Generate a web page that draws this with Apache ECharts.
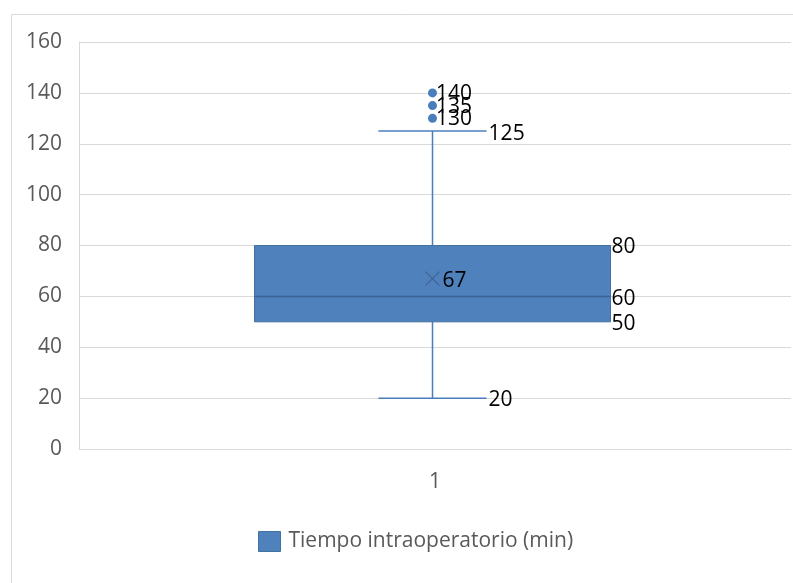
<!DOCTYPE html>
<html>
<head>
<meta charset="utf-8">
<script src="https://cdn.jsdelivr.net/npm/echarts@6/dist/echarts.min.js"></script>
<style>html,body{margin:0;padding:0;background:#fff;}#c{width:793px;height:583px;}</style>
</head>
<body>
<div id="c"></div>
<script>
const categories = ['1'];
const seriesName = 'Tiempo intraoperatorio (min)';
const whiskerLow = [20];
const q1 = [50];
const median = [60];
const q3 = [80];
const whiskerHigh = [125];
const mean = [67];
const outlierValues = [130, 135, 140];

const FONT = '"Open Sans", "Noto Sans", sans-serif';
const FS = 21;

const boxData = categories.map((c, i) => [i, whiskerLow[i], q1[i], median[i], q3[i], whiskerHigh[i], mean[i]]);
const outlierData = outlierValues.map(v => [0, v]);

const chart = echarts.init(document.getElementById('c'), null, {renderer: 'canvas'});
chart.setOption({
  animation: false,
  graphic: [{
    type: 'rect', shape: {x: 11.5, y: 14.5, width: 800, height: 600},
    style: {fill: 'none', stroke: '#d9d9d9', lineWidth: 1}, silent: true, z: -10
  }],
  grid: {left: 79, right: 2, top: 42, bottom: 134},
  legend: {
    left: 253, top: 526,
    itemWidth: 22, itemHeight: 20, itemGap: 10,
    textStyle: {color: '#595959', fontSize: FS, fontFamily: FONT, padding: [0, 0, 0, 3]},
    data: [{name: seriesName, icon: 'rect', itemStyle: {color: '#4f81bd', borderColor: '#41719c', borderWidth: 1}}]
  },
  xAxis: {
    type: 'category', data: categories, boundaryGap: true,
    axisLine: {show: true, lineStyle: {color: '#d9d9d9'}},
    axisTick: {show: false},
    axisLabel: {color: '#595959', fontSize: FS, fontFamily: FONT, margin: 23}
  },
  yAxis: {
    type: 'value', min: 0, max: 160, interval: 20,
    axisLine: {show: true, lineStyle: {color: '#d9d9d9'}},
    axisTick: {show: false},
    splitLine: {lineStyle: {color: '#d9d9d9'}},
    axisLabel: {color: '#595959', fontSize: FS, fontFamily: FONT, margin: 17}
  },
  series: [{
    name: seriesName,
    type: 'custom',
    data: boxData,
    encode: {x: 0, y: [1, 2, 3, 4, 5]},
    itemStyle: {color: '#4f81bd'},
    renderItem: function (params, api) {
      const xi = api.value(0);
      const vLow = api.value(1), vQ1 = api.value(2), vMed = api.value(3), vQ3 = api.value(4), vHigh = api.value(5), vMean = api.value(6);
      const pLow = api.coord([xi, vLow]);
      const pQ1 = api.coord([xi, vQ1]);
      const pMed = api.coord([xi, vMed]);
      const pQ3 = api.coord([xi, vQ3]);
      const pHigh = api.coord([xi, vHigh]);
      const pMean = api.coord([xi, vMean]);
      const band = api.size([1, 0])[0];
      const cx = Math.round(pQ1[0]) - 2.5;
      const bh = band * 0.25;
      const ch = band * 0.076;
      const lineStyle = {stroke: '#4a7ebb', lineWidth: 1.5};
      const txt = (x, y, v) => ({
        type: 'text', x: x, y: y, z2: 20,
        style: {text: String(v), fill: '#000', fontSize: FS, fontFamily: FONT, align: 'left', verticalAlign: 'middle'}
      });
      const m = 7;
      return {
        type: 'group',
        children: [
          {type: 'line', shape: {x1: cx, y1: pHigh[1], x2: cx, y2: pQ3[1]}, style: lineStyle},
          {type: 'line', shape: {x1: cx, y1: pQ1[1], x2: cx, y2: pLow[1]}, style: lineStyle},
          {type: 'line', shape: {x1: cx - ch, y1: pHigh[1], x2: cx + ch, y2: pHigh[1]}, style: lineStyle},
          {type: 'line', shape: {x1: cx - ch, y1: pLow[1], x2: cx + ch, y2: pLow[1]}, style: lineStyle},
          {type: 'rect', shape: {x: cx - bh, y: pQ3[1], width: 2 * bh, height: pQ1[1] - pQ3[1]},
            style: {fill: '#4f81bd', stroke: '#41719c', lineWidth: 1}},
          {type: 'line', shape: {x1: cx - bh, y1: pMed[1], x2: cx + bh, y2: pMed[1]}, style: {stroke: '#3b6493', lineWidth: 1.5}},
          {type: 'line', shape: {x1: cx - m, y1: pMean[1] - m, x2: cx + m, y2: pMean[1] + m}, style: {stroke: '#3f6393', lineWidth: 1.2}},
          {type: 'line', shape: {x1: cx - m, y1: pMean[1] + m, x2: cx + m, y2: pMean[1] - m}, style: {stroke: '#3f6393', lineWidth: 1.2}},
          txt(cx + m + 3, pMean[1] + 2, vMean),
          txt(cx + bh + 1, pQ3[1] + 2, vQ3),
          txt(cx + bh + 1, pMed[1] + 3, vMed),
          txt(cx + bh + 1, pQ1[1] + 2, vQ1),
          txt(cx + ch + 2, pHigh[1] + 3, vHigh),
          txt(cx + ch + 2, pLow[1] + 2, vLow)
        ]
      };
    }
  }, {
    name: 'outliers',
    type: 'scatter',
    data: outlierData,
    symbol: 'circle',
    symbolSize: 9,
    symbolOffset: [-2.5, 0],
    itemStyle: {color: '#4a7ebb', opacity: 1},
    label: {show: true, position: 'right', distance: -1, offset: [0, 1], formatter: p => p.value[1], color: '#000', fontSize: FS, fontFamily: FONT},
    z: 5
  }]
});
</script>
</body>
</html>
